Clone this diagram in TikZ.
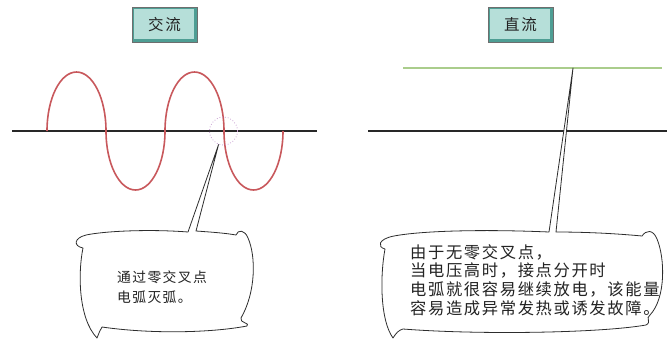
\documentclass[tikz,border=0pt]{standalone}
\usepackage{fontspec}
\newfontfamily\cjk[LetterSpace=10]{Noto Sans CJK SC}
\definecolor{wavered}{RGB}{200,88,92}
\definecolor{axisgray}{RGB}{40,40,40}
\definecolor{dcgreen}{RGB}{170,205,140}
\definecolor{zcpurple}{RGB}{200,160,210}
\definecolor{boxin}{RGB}{182,223,217}
\definecolor{boxout}{RGB}{78,158,148}
\definecolor{boxline}{RGB}{110,110,110}
\definecolor{textgray}{RGB}{35,35,35}
\definecolor{bubline}{RGB}{45,45,45}
\begin{document}
\begin{tikzpicture}[x=1pt,y=-1pt,
  axisline/.style={line width=2pt,draw=axisgray},
  wave/.style={line width=1.6pt,draw=wavered},
  dcline/.style={line width=1.6pt,draw=dcgreen},
  bubble/.style={draw=bubline,line width=0.8pt,fill=white,line join=round},
  titlebox/.style={draw=boxline,line width=0.6pt,fill=boxout,minimum width=65pt,minimum height=35pt,inner sep=0pt,
    path picture={\fill[boxin] ([shift={(1.5pt,-1.5pt)}]path picture bounding box.north west) rectangle ([shift={(-3pt,3pt)}]path picture bounding box.south east);},
    font=\cjk\fontsize{15.5}{18}\selectfont,text=textgray},
  bubtext/.style={inner sep=0pt,align=left,anchor=west,text=textgray},
  zcircle/.style={circle,draw=zcpurple,dotted,line width=0.8pt,minimum size=28pt,inner sep=0pt}
]
\useasboundingbox (0,0) rectangle (667,341);

% titles
\node[titlebox] (tac) at (164.5,24.5) {交流};
\node[titlebox] (tdc) at (520.5,24.5) {直流};

% left: AC
\coordinate (a1) at (12,131);
\coordinate (a2) at (317,131);
\draw[axisline] (a1) -- (a2);
\draw[wave] (47,131)
  arc[start angle=180,end angle=0,x radius=29.5pt,y radius=59pt]
  arc[start angle=180,end angle=360,x radius=29.5pt,y radius=59pt]
  arc[start angle=180,end angle=0,x radius=29.5pt,y radius=59pt]
  arc[start angle=180,end angle=360,x radius=29.5pt,y radius=59pt];
\node[zcircle] (zc) at (223.5,131) {};

% left bubble
\draw[bubble] (188,232)
  .. controls (150,229) and (105,231) .. (86,235)
  .. controls (74,238) and (73,246) .. (83,248)
  .. controls (78,272) and (78,318) .. (97,338)
  .. controls (99,333) and (100,330) .. (102,327)
  .. controls (150,334) and (210,333) .. (247,326)
  .. controls (251,323) and (239,323) .. (241,318)
  .. controls (256,292) and (256,256) .. (248,238)
  .. controls (245,230) and (238,229) .. (236,235)
  .. controls (225,233) and (210,232) .. (196,231)
  -- (zc.250) -- cycle;
\node[bubtext,font=\cjk\fontsize{13.8}{20}\selectfont] (ltext) at (117,287) {通过零交叉点\\电弧灭弧。};

% right: DC
\coordinate (b1) at (368,131);
\coordinate (b2) at (667,131);
\draw[axisline] (b1) -- (b2);
\coordinate (g1) at (403,68);
\coordinate (g2) at (662,68);
\coordinate (gtip) at (573,68);
\draw[dcline] (g1) -- (g2);

% right bubble
\draw[bubble] (549,232)
  .. controls (480,229) and (420,231) .. (394,236)
  .. controls (378,239) and (377,247) .. (385,249)
  .. controls (380,276) and (380,320) .. (393,338)
  .. controls (396,333) and (399,330) .. (403,329)
  .. controls (480,335) and (600,333) .. (646,325)
  .. controls (652,322) and (645,318) .. (650,315)
  .. controls (666,298) and (665,258) .. (657,239)
  .. controls (653,229) and (646,230) .. (642,236)
  .. controls (610,233) and (580,232) .. (556,232)
  -- (gtip) -- cycle;
\node[bubtext,font=\cjk\fontsize{16.3}{18.7}\selectfont] (rtext) at (410,280) {由于无零交叉点，\\当电压高时，接点分开时\\电弧就很容易继续放电，该能量\\容易造成异常发热或诱发故障。};
\end{tikzpicture}
\end{document}
